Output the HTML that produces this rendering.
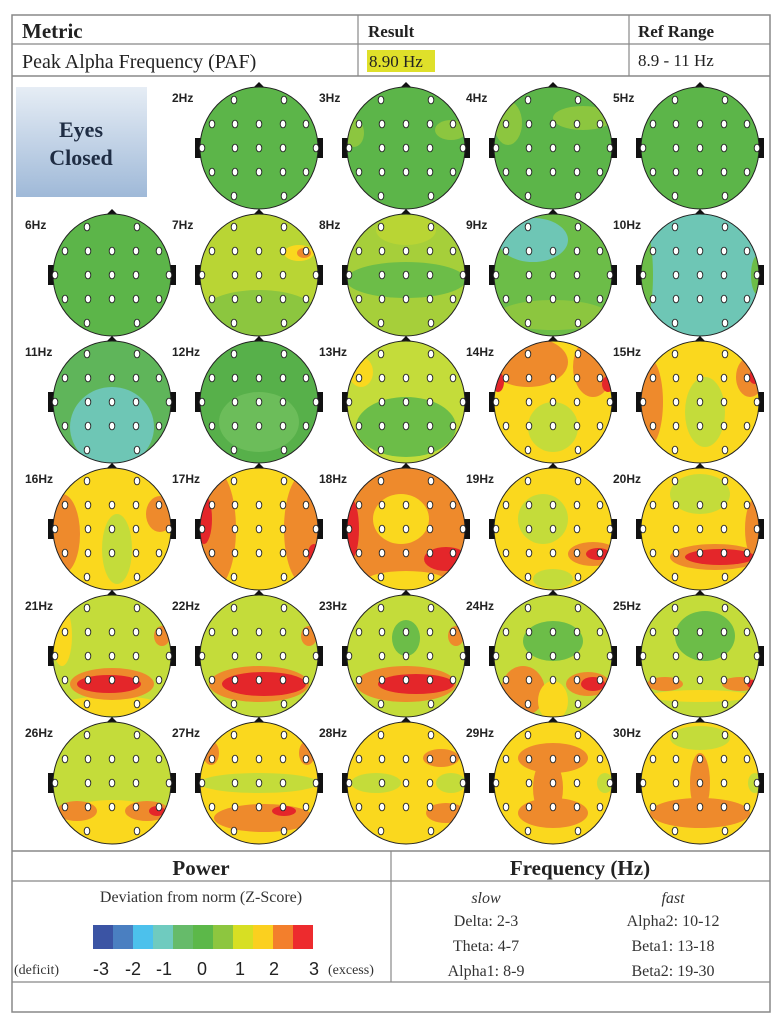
<!DOCTYPE html>
<html><head><meta charset="utf-8"><style>
body{margin:0;background:#fff;width:780px;height:1024px;overflow:hidden}
svg text{font-family:"Liberation Serif",serif}
</style></head><body>
<svg id="s" width="780" height="1024" xmlns="http://www.w3.org/2000/svg">
<defs><linearGradient id="eg" x1="0" y1="0" x2="0" y2="1"><stop offset="0" stop-color="#e6edf5"/><stop offset="1" stop-color="#9fb9d8"/></linearGradient></defs>
<rect x="12" y="15" width="758" height="997" fill="none" stroke="#888" stroke-width="1.5"/>
<line x1="12" y1="44" x2="770" y2="44" stroke="#888" stroke-width="1.2"/>
<line x1="12" y1="76" x2="770" y2="76" stroke="#888" stroke-width="1.5"/>
<line x1="358" y1="15" x2="358" y2="76" stroke="#888" stroke-width="1.2"/>
<line x1="629" y1="15" x2="629" y2="76" stroke="#888" stroke-width="1.2"/>
<text x="22" y="38" font-size="21" font-weight="bold" fill="#222">Metric</text>
<text x="368" y="37" font-size="17" font-weight="bold" fill="#222">Result</text>
<text x="638" y="37" font-size="17" font-weight="bold" fill="#222">Ref Range</text>
<text x="22" y="68" font-size="20" fill="#222">Peak Alpha Frequency (PAF)</text>
<rect x="367" y="50" width="68" height="22" fill="#dfe02a"/>
<text x="369" y="67" font-size="17" fill="#222">8.90 Hz</text>
<text x="638" y="66" font-size="17" fill="#222">8.9 - 11 Hz</text>
<rect x="16" y="87" width="131" height="110" fill="url(#eg)"/>
<text x="81" y="137" font-size="22" font-weight="bold" fill="#1f2d44" text-anchor="middle">Eyes</text>
<text x="81" y="165" font-size="22" font-weight="bold" fill="#1f2d44" text-anchor="middle">Closed</text>
<g id="heads"></g>
<line x1="12" y1="851" x2="770" y2="851" stroke="#888" stroke-width="1.5"/>
<line x1="12" y1="881" x2="770" y2="881" stroke="#888" stroke-width="1.2"/>
<line x1="12" y1="982" x2="770" y2="982" stroke="#888" stroke-width="1.2"/>
<line x1="391" y1="851" x2="391" y2="982" stroke="#888" stroke-width="1.2"/>
<text x="201" y="875" font-size="21" font-weight="bold" fill="#222" text-anchor="middle">Power</text>
<text x="580" y="875" font-size="21" font-weight="bold" fill="#222" text-anchor="middle">Frequency (Hz)</text>
<text x="201" y="902" font-size="16" fill="#333" text-anchor="middle">Deviation from norm (Z-Score)</text>
<g id="bar"></g>
<text x="14" y="974" font-size="14" fill="#333">(deficit)</text>
<text x="328" y="974" font-size="14" fill="#333">(excess)</text>
<g font-family="Liberation Sans,sans-serif" font-size="18" fill="#222" text-anchor="middle">
<text x="101" y="975" style="font-family:'Liberation Sans',sans-serif">-3</text>
<text x="133" y="975" style="font-family:'Liberation Sans',sans-serif">-2</text>
<text x="164" y="975" style="font-family:'Liberation Sans',sans-serif">-1</text>
<text x="202" y="975" style="font-family:'Liberation Sans',sans-serif">0</text>
<text x="240" y="975" style="font-family:'Liberation Sans',sans-serif">1</text>
<text x="274" y="975" style="font-family:'Liberation Sans',sans-serif">2</text>
<text x="314" y="975" style="font-family:'Liberation Sans',sans-serif">3</text>
</g>
<g font-size="16" fill="#333" text-anchor="middle">
<text x="486" y="903" font-style="italic">slow</text>
<text x="673" y="903" font-style="italic">fast</text>
<text x="486" y="926">Delta:   2-3</text>
<text x="486" y="951">Theta:  4-7</text>
<text x="486" y="976">Alpha1: 8-9</text>
<text x="673" y="926">Alpha2: 10-12</text>
<text x="673" y="951">Beta1:  13-18</text>
<text x="673" y="976">Beta2:  19-30</text>
</g>
</svg>
<script>
var NS="http://www.w3.org/2000/svg";
var G='#5cb549',LG='#8cc63f',YG='#c4dc3a',Y='#fad81e',O='#ee8a2c',R='#e4262a',C='#6ec6b5';
var H={
2:[G,[]],3:[G,[[45,-18,16,10,LG],[-52,-15,10,14,LG]]],4:[G,[[30,-30,30,12,LG],[-45,-25,14,22,LG]]],5:[G,[]],
6:[G,[]],7:['#b9d534',[[0,40,60,25,LG],[40,-22,15,8,Y],[45,-22,7,5,O]]],
8:['#a6cf3a',[[0,5,60,18,'#6cbd48'],[0,-45,30,15,'#b9d534']]],
9:['#6cbd48',[[-20,-35,35,22,C],[0,40,55,15,LG]]],
10:[C,[[-57,0,10,50,'#6cbd48'],[58,0,7,20,'#6cbd48']]],
11:['#5fb55a',[[0,25,42,40,C]]],12:['#57b04a',[[0,20,40,30,'#6cbd5a']]],
13:[YG,[[0,25,50,30,'#6cbd48'],[-45,-30,12,15,Y]]],
14:[Y,[[-25,-40,40,25,O],[40,-35,20,30,O],[55,-18,6,8,R],[-55,-20,6,10,R],[0,25,25,25,YG]]],
15:[Y,[[-52,0,15,45,O],[50,-25,14,20,O],[55,-25,6,7,R],[5,10,20,35,YG]]],
16:[Y,[[-50,5,18,40,O],[48,-15,14,18,O],[5,20,15,35,YG]]],
17:[Y,[[-45,0,22,60,O],[-55,-10,8,25,R],[45,0,20,55,O],[55,25,6,10,R]]],
18:[O,[[-5,-10,28,25,Y],[-55,0,8,30,R],[40,30,22,12,R],[0,52,40,10,Y]]],
19:[Y,[[-10,-10,25,25,YG],[40,25,25,12,O],[45,25,12,6,R],[0,50,20,10,YG]]],
20:[Y,[[0,-35,30,20,YG],[55,0,10,30,O],[15,28,45,13,O],[20,28,35,8,R]]],
21:[YG,[[-50,-20,10,30,Y],[0,50,50,10,Y],[0,28,42,16,O],[-3,28,32,9,R],[50,-20,8,10,O]]],
22:[YG,[[0,28,50,18,O],[5,28,42,12,R],[50,-20,8,10,O]]],
23:[YG,[[0,28,50,18,O],[10,28,38,10,R],[0,-18,14,18,'#6cbd48'],[50,-20,8,10,O]]],
24:[YG,[[0,-15,30,20,'#6cbd48'],[-30,35,22,25,O],[35,28,22,12,O],[40,28,12,7,R],[0,45,15,20,Y]]],
25:[YG,[[5,-20,30,25,'#6cbd48'],[0,40,50,6,Y],[-35,28,18,7,O],[40,28,18,7,O],[52,28,5,4,R]]],
26:[YG,[[0,42,60,25,Y],[-35,28,20,10,O],[35,28,22,10,O],[45,28,8,5,R]]],
27:[Y,[[0,0,60,10,YG],[5,35,50,14,O],[25,28,12,5,R],[-48,-30,8,12,O],[48,-30,8,12,O]]],
28:[Y,[[-30,0,25,10,YG],[45,0,15,10,YG],[35,-25,18,9,O],[40,30,20,10,O]]],
29:[Y,[[0,-25,35,15,O],[-5,5,15,30,O],[0,30,35,15,O],[52,0,8,10,YG]]],
30:[Y,[[0,-45,30,12,YG],[0,30,50,15,O],[0,0,10,30,O],[55,0,7,10,YG]]]};
var cx=[112,259,406,553,700],cy=[148,275,402,529,656,783];
var dots=[[-25,-48],[25,-48],[-47,-24],[-24,-24],[0,-24],[24,-24],[47,-24],[-57,0],[-24,0],[0,0],[24,0],[57,0],[-47,24],[-24,24],[0,24],[24,24],[47,24],[-25,48],[25,48]];
var out='';
for(var f=2;f<=30;f++){var i=f-1,x=cx[i%5],y=cy[Math.floor(i/5)],h=H[f];
out+='<clipPath id="c'+f+'"><ellipse cx="'+x+'" cy="'+y+'" rx="59" ry="61"/></clipPath>';
out+='<polygon points="'+(x-9)+','+(y-57)+' '+x+','+(y-66)+' '+(x+9)+','+(y-57)+'" fill="#111"/>';
out+='<rect x="'+(x-64)+'" y="'+(y-10)+'" width="6" height="20" fill="#111"/><rect x="'+(x+58)+'" y="'+(y-10)+'" width="6" height="20" fill="#111"/>';
out+='<g clip-path="url(#c'+f+')"><rect x="'+(x-60)+'" y="'+(y-62)+'" width="120" height="124" fill="'+h[0]+'"/>';
h[1].forEach(function(b){out+='<ellipse cx="'+(x+b[0])+'" cy="'+(y+b[1])+'" rx="'+b[2]+'" ry="'+b[3]+'" fill="'+b[4]+'"/>';});
out+='</g><ellipse cx="'+x+'" cy="'+y+'" rx="59" ry="61" fill="none" stroke="#222" stroke-width="1"/>';
dots.forEach(function(d){out+='<ellipse cx="'+(x+d[0])+'" cy="'+(y+d[1])+'" rx="2.8" ry="3.8" fill="#fff" stroke="#222" stroke-width="0.9"/>';});
out+='<text x="'+(x-87)+'" y="'+(y-46)+'" style="font-family:\'Liberation Sans\',sans-serif" font-size="12" font-weight="bold" fill="#222">'+f+'Hz</text>';}
document.getElementById('heads').innerHTML=out;
var cols=['#3b54a4','#4a7fc1','#4cc1ec','#6fcbbf','#66bb6a','#5cb849','#8dc63f','#d7df23','#fbd01f','#f37f2c','#ed2b2e'],b='';
cols.forEach(function(c,k){b+='<rect x="'+(93+k*20)+'" y="925" width="20" height="24" fill="'+c+'"/>';});
document.getElementById('bar').innerHTML=b;
</script>
</body></html>
